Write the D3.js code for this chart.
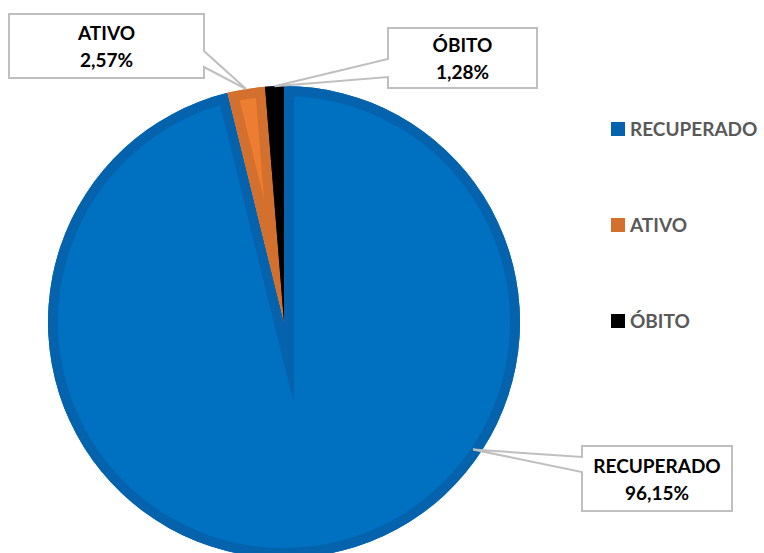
<!DOCTYPE html>
<html>
<head>
<meta charset="utf-8">
<script src="https://unpkg.com/d3@7/dist/d3.min.js"></script>
<style>
  body { margin: 0; background: #fff; }
  svg { display: block; font-family: Lato, "Open Sans", sans-serif; }
</style>
</head>
<body>
<div id="chart"></div>
<script>
// data
const categories = ["RECUPERADO", "ATIVO", "ÓBITO"];
const percents = [96.15, 2.57, 1.28];
const pctLabels = ["96,15%", "2,57%", "1,28%"];

const fillColors = ["#0070C0", "#ED7D31", "#000000"];
const edgeColors = ["#0563AE", "#D4702D", "#000000"];

const width = 764, height = 553;
const cx = 284, cy = 322, radius = 236;

const svg = d3.select("#chart").append("svg")
    .attr("width", width)
    .attr("height", height);

const pie = d3.pie().sort(null).value(d => d.value);
const arcs = pie(categories.map((c, i) => ({ name: c, value: percents[i], i: i })));
const arc = d3.arc().innerRadius(0).outerRadius(radius);

const g = svg.append("g").attr("transform", `translate(${cx},${cy})`);
const defs = svg.append("defs");

arcs.forEach((d, i) => {
  defs.append("clipPath").attr("id", "clip" + i)
    .append("path").attr("d", arc(d));
});

const slice = g.selectAll(".slice")
  .data(arcs)
  .enter()
  .append("g")
  .attr("class", "slice");

slice.append("path")
  .attr("d", arc)
  .attr("fill", d => fillColors[d.data.i]);

// inner border, like the wide outline in the original
slice.append("path")
  .attr("d", arc)
  .attr("fill", "none")
  .attr("stroke", d => edgeColors[d.data.i])
  .attr("stroke-width", 20)
  .attr("stroke-linejoin", "miter")
  .attr("stroke-miterlimit", 30)
  .attr("clip-path", d => `url(#clip${d.data.i})`);

// callout boxes: [x, y, w, h, side of pointer, pointer base y0, y1, angle, radius of tip]
const boxes = [
  { x: 582, y: 446, w: 150, h: 65, side: "left", b0: 457, b1: 472, ang: 124 * Math.PI / 180, r: 228 },
  { x: 9, y: 14, w: 195, h: 64, side: "right", b0: 51, b1: 67, ang: null, r: radius },
  { x: 388, y: 28, w: 149, h: 60, side: "left", b0: 59, b1: 77, ang: null, r: radius }
];

arcs.forEach((d, i) => {
  const b = boxes[i];
  const a = b.ang != null ? b.ang : (d.startAngle + d.endAngle) / 2;
  const tx = cx + b.r * Math.sin(a);
  const ty = cy - b.r * Math.cos(a);
  const p = d3.path();
  if (b.side === "left") {
    p.moveTo(b.x, b.y);
    p.lineTo(b.x + b.w, b.y);
    p.lineTo(b.x + b.w, b.y + b.h);
    p.lineTo(b.x, b.y + b.h);
    p.lineTo(b.x, b.b1);
    p.lineTo(tx, ty);
    p.lineTo(b.x, b.b0);
    p.closePath();
  } else {
    p.moveTo(b.x, b.y);
    p.lineTo(b.x + b.w, b.y);
    p.lineTo(b.x + b.w, b.b0);
    p.lineTo(tx, ty);
    p.lineTo(b.x + b.w, b.b1);
    p.lineTo(b.x + b.w, b.y + b.h);
    p.lineTo(b.x, b.y + b.h);
    p.closePath();
  }
  svg.append("path")
    .attr("d", p.toString())
    .attr("fill", "#fff")
    .attr("stroke", "#BFBFBF")
    .attr("stroke-width", 2);

  const t = svg.append("text")
    .attr("text-anchor", "middle")
    .attr("font-weight", "bold")
    .attr("font-size", 19)
    .attr("fill", "#000");
  const mx = b.x + b.w / 2, my = b.y + b.h / 2;
  t.append("tspan").attr("x", mx).attr("y", my - 6).text(d.data.name);
  t.append("tspan").attr("x", mx).attr("y", my + 21).text(pctLabels[i]);
});

// legend
const legendY = d3.scalePoint().domain(categories).range([129, 321]);
const legend = svg.append("g").selectAll("g")
  .data(categories)
  .enter()
  .append("g")
  .attr("transform", d => `translate(611,${legendY(d)})`);

legend.append("rect")
  .attr("x", 0).attr("y", -7)
  .attr("width", 14).attr("height", 14)
  .attr("fill", (d, i) => edgeColors[i]);

legend.append("text")
  .attr("x", 19).attr("y", 7)
  .attr("font-weight", "bold")
  .attr("font-size", 19)
  .attr("fill", "#595959")
  .text(d => d);
</script>
</body>
</html>
